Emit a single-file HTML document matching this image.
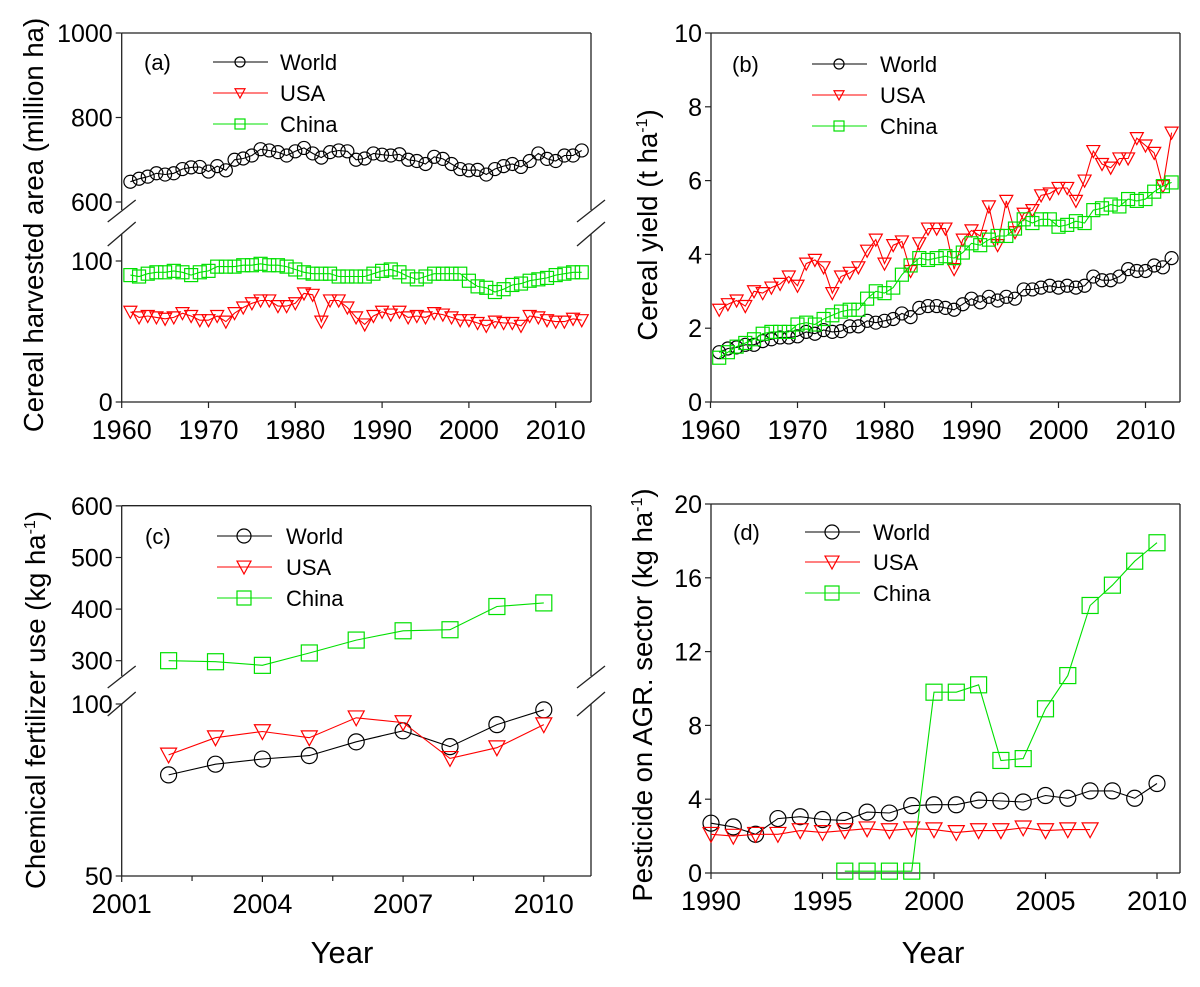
<!DOCTYPE html>
<html><head><meta charset="utf-8">
<style>
body{margin:0;background:#fff;}
svg{display:block;font-family:"Liberation Sans",Arial,sans-serif;}
</style></head>
<body>
<svg id="fig" width="1200" height="987" viewBox="0 0 1200 987" xmlns="http://www.w3.org/2000/svg"></svg>
<script>
// ---- Panel (a) data: cereal harvested area (million ha)
const yearsA = [];
for (let y = 1961; y <= 2013; y++) yearsA.push(y);
const worldA = [648,655,660,668,665,668,678,682,683,672,685,675,700,703,710,725,722,718,710,720,728,715,705,718,722,720,700,703,715,712,710,713,700,697,690,707,702,690,678,675,676,665,678,685,690,683,697,715,702,697,710,710,722];
const usaA = [64,60,61,60,59,60,63,61,58,58,61,57,63,67,70,72,72,68,68,70,77,76,57,72,72,67,60,55,61,64,62,64,60,61,60,63,62,60,58,58,56,54,57,56,56,54,61,60,58,57,57,59,58];
const chinaA = [90,89,91,92,92,93,92,90,92,93,96,96,96,97,97,98,97,97,96,94,92,91,91,91,89,89,89,89,91,93,94,92,89,87,89,91,91,91,91,86,82,81,78,80,83,84,86,87,88,90,91,92,92];
const ticksAx = [1960,1970,1980,1990,2000,2010];
const ticksAy = [0,100,600,800,1000];
// ---- Panel (b) data: cereal yield (t/ha)
const worldB = [1.35,1.45,1.48,1.55,1.55,1.65,1.7,1.75,1.75,1.78,1.9,1.85,1.95,1.9,1.92,2.05,2.05,2.2,2.15,2.2,2.25,2.4,2.3,2.55,2.6,2.6,2.55,2.5,2.65,2.8,2.7,2.85,2.75,2.85,2.8,3.05,3.05,3.1,3.15,3.1,3.15,3.1,3.15,3.4,3.3,3.3,3.4,3.6,3.55,3.55,3.7,3.65,3.9];
const usaB = [2.5,2.65,2.75,2.6,3.0,2.95,3.1,3.2,3.4,3.15,3.75,3.85,3.65,2.95,3.4,3.5,3.65,4.1,4.4,3.75,4.25,4.35,3.55,4.3,4.7,4.7,4.7,3.6,4.4,4.65,4.5,5.3,4.25,5.45,4.6,5.1,5.2,5.6,5.65,5.8,5.8,5.45,6.0,6.8,6.45,6.35,6.6,6.6,7.15,6.95,6.75,5.85,7.3];
const chinaB = [1.2,1.35,1.5,1.6,1.7,1.85,1.9,1.9,1.9,2.1,2.15,2.1,2.25,2.35,2.45,2.5,2.5,2.8,3.0,2.95,3.1,3.45,3.7,3.9,3.85,3.9,3.95,3.9,4.05,4.3,4.25,4.4,4.5,4.5,4.7,4.95,4.85,4.95,4.95,4.75,4.8,4.9,4.85,5.2,5.25,5.35,5.3,5.5,5.45,5.5,5.7,5.85,5.95];
const ticksBy = [0,2,4,6,8,10];
// ---- Panel (c) data: chemical fertilizer use (kg/ha)
const yearsC = [2002,2003,2004,2005,2006,2007,2008,2009,2010];
const worldC = [79.4,82.5,84,85,89,92.2,87.6,94,98.3];
const usaC = [85.2,90.2,92,90.2,96,94.6,84.2,87.3,94];
const chinaC = [300,298,291,315,340,358,360,405,412];
const ticksCx = [2001,2004,2007,2010];
const ticksCy = [50,100,300,400,500,600];
// ---- Panel (d) data: pesticide (kg/ha)
const yearsDw = [];
for (let y = 1990; y <= 2010; y++) yearsDw.push(y);
const worldD = [2.7,2.5,2.1,2.95,3.05,2.9,2.85,3.3,3.25,3.65,3.7,3.7,3.95,3.9,3.85,4.2,4.05,4.45,4.45,4.05,4.85];
const yearsDu = [1990,1991,1992,1993,1994,1995,1996,1997,1998,1999,2000,2001,2002,2003,2004,2005,2006,2007];
const usaD = [2.1,2.0,2.1,2.1,2.3,2.2,2.3,2.4,2.3,2.4,2.35,2.2,2.3,2.3,2.45,2.3,2.35,2.35];
const yearsDc = [1996,1997,1998,1999,2000,2001,2002,2003,2004,2005,2006,2007,2008,2009,2010];
const chinaD = [0.1,0.1,0.1,0.1,9.8,9.8,10.2,6.1,6.2,8.9,10.7,14.5,15.6,16.9,17.9];
const ticksDx = [1990,1995,2000,2005,2010];
const ticksDy = [0,4,8,12,16,20];

const NS = "http://www.w3.org/2000/svg";
const svg = document.getElementById('fig');
function el(tag, attrs, parent, text) {
  const e = document.createElementNS(NS, tag);
  for (const k in attrs) e.setAttribute(k, attrs[k]);
  if (text !== undefined) e.textContent = text;
  (parent || svg).appendChild(e);
  return e;
}
const BLACK = '#000', RED = '#ff0000', GREEN = '#00e000';

function marker(g, type, cx, cy, s, color) {
  let m;
  if (type === 'circle') m = el('circle', {cx, cy, r: s, fill: 'none', stroke: color, 'stroke-width': 1.2}, g);
  else if (type === 'tri') m = el('polygon', {points: `${cx-s},${cy-s*0.85} ${cx+s},${cy-s*0.85} ${cx},${cy+s*1.0}`, fill: 'none', stroke: color, 'stroke-width': 1.2}, g);
  else m = el('rect', {x: cx-s, y: cy-s, width: 2*s, height: 2*s, fill: 'none', stroke: color, 'stroke-width': 1.2}, g);
  return m;
}
function series(name, xs, ys, xf, yf, type, color, s) {
  const g = el('g', {});
  
  
  const pts = xs.map((x, i) => `${xf(x).toFixed(1)},${yf(ys[i]).toFixed(1)}`).join(' ');
  const l = el('polyline', {points: pts, fill: 'none', stroke: color, 'stroke-width': 1.1}, g);
  
  
  xs.forEach((x, i) => {
    const m = marker(g, type, xf(x), yf(ys[i]), s, color);
    
    
  });
}
function legend(prefix, lx, tx, rows, s, labelTxt, labelX) {
  const g = el('g', {});
  
  
  const t0 = el('text', {x: labelX, y: rows[0] + 8, 'font-size': 22}, g, labelTxt);
  
  
  const items = [['World', 'circle', BLACK], ['USA', 'tri', RED], ['China', 'sq', GREEN]];
  items.forEach((it, i) => {
    const y = rows[i];
    el('line', {x1: lx, y1: y, x2: lx + 55, y2: y, stroke: it[2], 'stroke-width': 1.1}, g);
    marker(g, it[1], lx + 27, y, s, it[2]);
    const t = el('text', {x: tx, y: y + 8, 'font-size': 22}, g, it[0]);
    
    
  });
}
function frame(L, R, T, B, gapTop, gapBot) {
  const g = el('g', {stroke: '#222', 'stroke-width': 1.3, fill: 'none'});
  
  
  el('line', {x1: L, y1: T, x2: R, y2: T}, g);
  el('line', {x1: L, y1: B, x2: R, y2: B}, g);
  if (gapTop) {
    [L, R].forEach(x => {
      el('line', {x1: x, y1: T, x2: x, y2: gapTop}, g);
      el('line', {x1: x, y1: gapBot, x2: x, y2: B}, g);
      el('line', {x1: x - 14, y1: gapTop + 12, x2: x + 14, y2: gapTop - 10}, g);
      el('line', {x1: x - 14, y1: gapBot + 12, x2: x + 14, y2: gapBot - 12}, g);
    });
  } else {
    el('line', {x1: L, y1: T, x2: L, y2: B}, g);
    el('line', {x1: R, y1: T, x2: R, y2: B}, g);
  }
}
function xTicks(prefix, ticks, xf, B, minor) {
  const g = el('g', {});
  
  
  ticks.forEach(t => {
    el('line', {x1: xf(t), y1: B, x2: xf(t), y2: B + 6, stroke: '#222', 'stroke-width': 1.2}, g);
    const tx = el('text', {x: xf(t), y: B + 37, 'font-size': 27, 'text-anchor': 'middle'}, g, String(t));
    
    
  });
  (minor || []).forEach(t => el('line', {x1: xf(t), y1: B, x2: xf(t), y2: B + 5, stroke: '#222', 'stroke-width': 1.2}, g));
}
function yTicks(prefix, ticks, yf, L) {
  const g = el('g', {});
  
  
  ticks.forEach(t => {
    el('line', {x1: L - 6, y1: yf(t), x2: L, y2: yf(t), stroke: '#222', 'stroke-width': 1.2}, g);
    const tx = el('text', {x: L - 9, y: yf(t) + 9, 'font-size': 25, 'text-anchor': 'end'}, g, String(t));
    
    
  });
}
function yTitle(name, x, y, html) {
  const t = el('text', {x: 0, y: 0, 'font-size': 27.5, 'text-anchor': 'middle', transform: `translate(${x},${y}) rotate(-90)`});
  t.innerHTML = html;
  
  
}

// ---- Panel (a)
{
  const L = 121.7, R = 591, T = 33, B = 402;
  const xf = v => L + (v - 1960) * 8.68;
  const yf = v => v >= 300 ? 202 - (v - 600) * 0.4225 : 402 - v * 1.41;
  frame(L, R, T, B, 210, 234);
  xTicks('panel-a', ticksAx, xf, B);
  yTicks('panel-a', ticksAy, yf, L);
  series('panel-a-world', yearsA, worldA, xf, yf, 'circle', BLACK, 6.5);
  series('panel-a-usa', yearsA, usaA, xf, yf, 'tri', RED, 6.5);
  series('panel-a-china', yearsA, chinaA, xf, yf, 'sq', GREEN, 6.5);
  legend('panel-a', 213, 280, [62, 93, 124], 5, '(a)', 144);
  yTitle('panel-a-y-axis-title', 43, 225, 'Cereal harvested area (million ha)');
}
// ---- Panel (b)
{
  const L = 711, R = 1180, T = 33, B = 402;
  const xf = v => 710.5 + (v - 1960) * 8.7;
  const yf = v => B - v * 36.9;
  frame(L, R, T, B);
  xTicks('panel-b', ticksAx, xf, B);
  yTicks('panel-b', ticksBy, yf, L);
  series('panel-b-world', yearsA, worldB, xf, yf, 'circle', BLACK, 6.5);
  series('panel-b-usa', yearsA, usaB, xf, yf, 'tri', RED, 6.5);
  series('panel-b-china', yearsA, chinaB, xf, yf, 'sq', GREEN, 6.5);
  legend('panel-b', 812, 880, [64, 95, 126], 5, '(b)', 732);
  yTitle('panel-b-y-axis-title', 657, 225, 'Cereal yield (t ha<tspan dy="-10" font-size="16">-1</tspan><tspan dy="10">)</tspan>');
}
// ---- Panel (c)
{
  const L = 121.7, R = 591, T = 505.7, B = 876;
  const xf = v => L + (v - 2001) * 46.9;
  const yf = v => v >= 200 ? 660.7 - (v - 300) * 0.516 : 876 - (v - 50) * 3.44;
  frame(L, R, T, B, 676, 704);
  xTicks('panel-c', ticksCx, xf, B, [2002.5, 2005.5, 2008.5]);
  yTicks('panel-c', ticksCy, yf, L);
  series('panel-c-world', yearsC, worldC, xf, yf, 'circle', BLACK, 8);
  series('panel-c-usa', yearsC, usaC, xf, yf, 'tri', RED, 8);
  series('panel-c-china', yearsC, chinaC, xf, yf, 'sq', GREEN, 8);
  legend('panel-c', 217, 286, [536, 567, 598], 7, '(c)', 145);
  yTitle('panel-c-y-axis-title', 45, 700, 'Chemical fertilizer use (kg ha<tspan dy="-10" font-size="16">-1</tspan><tspan dy="10">)</tspan>');
  const yt = el('text', {x: 342, y: 963, 'font-size': 31, 'text-anchor': 'middle'}, svg, 'Year');
  
  
}
// ---- Panel (d)
{
  const L = 711, R = 1180, T = 504, B = 873;
  const xf = v => L + (v - 1990) * 22.3;
  const yf = v => B - v * 18.45;
  frame(L, R, T, B);
  xTicks('panel-d', ticksDx, xf, B);
  yTicks('panel-d', ticksDy, yf, L);
  series('panel-d-world', yearsDw, worldD, xf, yf, 'circle', BLACK, 8);
  series('panel-d-usa', yearsDu, usaD, xf, yf, 'tri', RED, 8);
  series('panel-d-china', yearsDc, chinaD, xf, yf, 'sq', GREEN, 8);
  legend('panel-d', 805, 873, [532, 562, 593], 7, '(d)', 733);
  yTitle('panel-d-y-axis-title', 652, 695, 'Pesticide on AGR. sector (kg ha<tspan dy="-10" font-size="16">-1</tspan><tspan dy="10">)</tspan>');
  const yt = el('text', {x: 933, y: 963, 'font-size': 31, 'text-anchor': 'middle'}, svg, 'Year');
  
  
}
</script>
</body></html>
